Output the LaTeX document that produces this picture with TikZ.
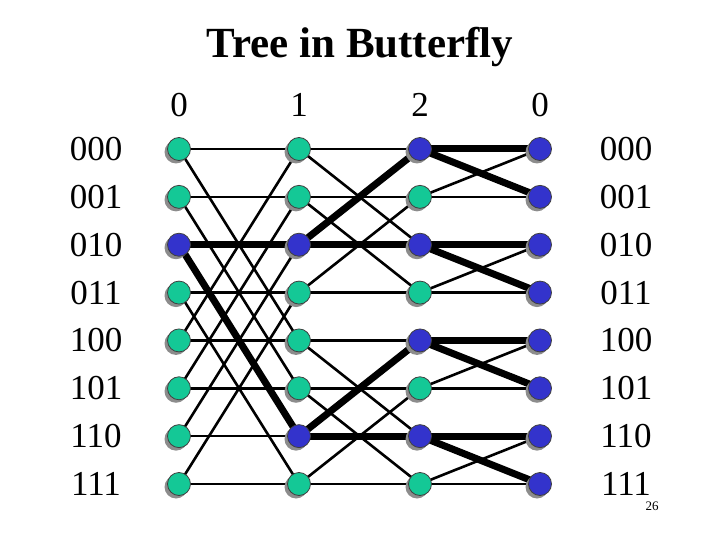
\documentclass[tikz,border=0pt]{standalone}
\usepackage{fontspec}
\setmainfont{Liberation Serif}
\usetikzlibrary{shadows}
\definecolor{vgreen}{RGB}{20,200,150}
\definecolor{vblue}{RGB}{51,51,204}
\pgfdeclarelayer{bg}
\pgfsetlayers{bg,main}
\begin{document}
\begin{tikzpicture}[x=1pt,y=-1pt,
  vtx/.style={circle,minimum size=23pt,inner sep=0pt,draw=black!75,line width=0.8pt,
    drop shadow={shadow xshift=-3pt,shadow yshift=-3pt,fill=black!45,opacity=1}},
  vg/.style={vtx,fill=vgreen},
  vb/.style={vtx,fill=vblue},
  thinedge/.style={line width=2.6pt,black},
  thickedge/.style={line width=7pt,black},
  lab/.style={font=\fontsize{35}{35}\selectfont,inner sep=0pt}]
\useasboundingbox (0,0) rectangle (720,540);
\node[font=\fontsize{43}{43}\selectfont\bfseries,inner sep=0pt] (title) at (360,47) {Tree in Butterfly};
\foreach \c/\x in {0/179,1/299,2/420,3/540} {
  \foreach \r in {0,...,7} {
    \pgfmathsetmacro\y{149+47.857*\r}
    \pgfmathtruncatemacro\b{(\c==3) || (\c==2 && mod(\r,2)==0) || (\c==1 && (\r==2 || \r==6)) || (\c==0 && \r==2)}
    \ifnum\b=1 \def\st{vb}\else\def\st{vg}\fi
    \node[\st] (n-\c-\r) at (\x,\y) {};
  }
}
\foreach \c/\t in {0/0,1/1,2/2,3/0}
  \node[lab] (h-\c) at ([yshift=44pt]n-\c-0) {\t};
\foreach \r/\t in {0/000,1/001,2/010,3/011,4/100,5/101,6/110,7/111} {
  \node[lab] (l-\r) at ([xshift=-83pt]n-0-\r) {\t};
  \node[lab] (rl-\r) at ([xshift=86pt]n-3-\r) {\t};
}
\node[font=\fontsize{13}{13}\selectfont,inner sep=0pt] (pg) at (652,506) {26};
\begin{pgfonlayer}{bg}
\foreach \s/\d in {0/4,1/2,2/1} {
  \pgfmathtruncatemacro\nx{\s+1}
  \foreach \r in {0,...,7} {
    \pgfmathtruncatemacro\p{mod(floor(\r/\d),2)==0 ? \r+\d : \r-\d}
    \draw[thinedge] (n-\s-\r.center) -- (n-\nx-\r.center);
    \draw[thinedge] (n-\s-\r.center) -- (n-\nx-\p.center);
  }
}
\foreach \a/\b in {0-2/1-2,0-2/1-6,1-2/2-2,1-2/2-0,1-6/2-6,1-6/2-4,2-0/3-0,2-0/3-1,2-2/3-2,2-2/3-3,2-4/3-4,2-4/3-5,2-6/3-6,2-6/3-7}
  \draw[thickedge] (n-\a.center) -- (n-\b.center);
\end{pgfonlayer}
\end{tikzpicture}
\end{document}
